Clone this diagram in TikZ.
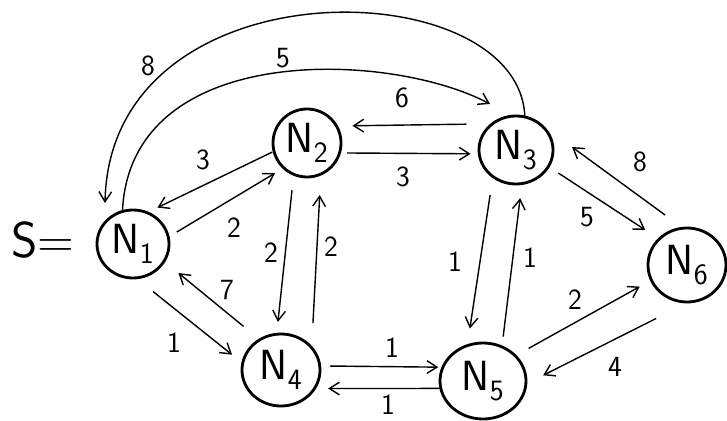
\documentclass[tikz,border=0pt]{standalone}
\usepackage{fontspec}
\usetikzlibrary{arrows.meta,shapes.geometric,calc}
\begin{document}
\begin{tikzpicture}[x=0.3mm,y=-0.3mm,
  vertex/.style={ellipse,draw,line width=2.4pt,inner sep=0pt,outer sep=0pt,
    font=\sffamily\fontsize{36}{36}\selectfont},
  edge/.style={line width=1.2pt,-{Straight Barb[length=3mm,width=3.8mm]}},
  wt/.style={font=\sffamily\fontsize{25}{25}\selectfont,inner sep=0pt}]
\useasboundingbox (0,0) rectangle (727,421);
\fill[white] (0,0) rectangle (727,421);

% vertices
\node[vertex,minimum width=21.6mm,minimum height=20.4mm] (N1) at (133,244) {N\textsubscript{1}};
\node[vertex,minimum width=20.4mm,minimum height=20.4mm] (N2) at (307,143) {N\textsubscript{2}};
\node[vertex,minimum width=22.2mm,minimum height=20.4mm] (N3) at (516,150) {N\textsubscript{3}};
\node[vertex,minimum width=23.4mm,minimum height=21.6mm] (N4) at (281,370) {N\textsubscript{4}};
\node[vertex,minimum width=25.8mm,minimum height=22.8mm] (N5) at (483,381) {N\textsubscript{5}};
\node[vertex,minimum width=23.4mm,minimum height=22.2mm] (N6) at (687,265) {N\textsubscript{6}};

% source marker
\node[font=\sffamily\fontsize{43}{43}\selectfont,inner sep=0pt] (src) at (43,240) {S=};

% long arcs over the top
\draw[edge] (N1.108) .. controls (130,40) and (390,51) .. ($(N3)+(-7.8mm,13.8mm)$);
\draw[edge] (N3.75) .. controls (520,-30) and (110,-40) .. ($(N1)+(-8.4mm,12.3mm)$);

% straight connectors
\draw[edge,shorten <=0.6mm,shorten >=3.5mm] (N2.194) -- (N1.66);
\draw[edge,shorten <=3mm,shorten >=3.1mm] (N1.11) -- (N2.227);
\draw[edge,shorten <=2.25mm,shorten >=2.6mm] (N2.343) -- (N3.186);
\draw[edge,shorten <=7.8mm,shorten >=4.8mm] (N3.132) -- (N2.30);
\draw[edge,shorten <=4.8mm,shorten >=3.7mm] (N2.247) -- (N4.97);
\draw[edge,shorten <=7.4mm,shorten >=6.3mm] (N4.36) -- (N2.294);
\draw[edge,shorten <=6.3mm,shorten >=5.6mm] (N4.125) -- (N1.331);
\draw[edge,shorten <=6.6mm,shorten >=4.1mm] (N1.275) -- (N4.170);
\draw[edge,shorten <=3.1mm,shorten >=1.4mm] (N4.6) -- (N5.161);
\draw[edge,shorten <=0.3mm,shorten >=4.1mm] (N5.190) -- (N4.331);
\draw[edge,shorten <=5.6mm,shorten >=5.2mm] (N3.229) -- (N5.114);
\draw[edge,shorten <=3.1mm,shorten >=4.4mm] (N5.61) -- (N3.280);
\draw[edge,shorten <=3.6mm,shorten >=5mm] (N3.333) -- (N6.137);
\draw[edge,shorten <=6.7mm] (N6.96) -- ($(N3.east)+(5.7mm,0.9mm)$);
\draw[edge,shorten <=4.6mm,shorten >=4mm] (N5.38) -- (N6.203);
\draw[edge,shorten <=11mm,shorten >=5.8mm] (N6.273) -- (N5.356);

% weights
\node[wt] (w13a) at (283,58) {5};
\node[wt] (w31a) at (148,66) {8};
\node[wt] (w32) at (402,98) {6};
\node[wt] (w21) at (203,160) {3};
\node[wt] (w12) at (234,228) {2};
\node[wt] (w23) at (403,177) {3};
\node[wt] (w24) at (271,253) {2};
\node[wt] (w42) at (331,247) {2};
\node[wt] (w41) at (227,290) {7};
\node[wt] (w14) at (174,343) {1};
\node[wt] (w45) at (392,348) {1};
\node[wt] (w54) at (388,405) {1};
\node[wt] (w35) at (455,262) {1};
\node[wt] (w53) at (530,258) {1};
\node[wt] (w36) at (587,217) {5};
\node[wt] (w63) at (640,162) {8};
\node[wt] (w56) at (575,300) {2};
\node[wt] (w65) at (615,367) {4};
\end{tikzpicture}
\end{document}
